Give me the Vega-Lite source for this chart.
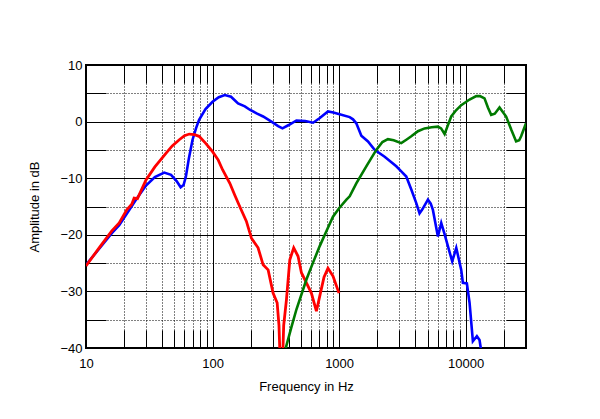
{
  "$schema": "https://vega.github.io/schema/vega-lite/v6.json",
  "width": 440,
  "height": 283,
  "autosize": {"type": "none"},
  "padding": {"left": 86, "top": 65, "right": 74, "bottom": 71},
  "background": "white",
  "config": {
    "view": {"stroke": "black", "strokeWidth": 2},
    "font": "Liberation Sans",
    "axis": {"labelFont": "Liberation Sans", "titleFont": "Liberation Sans", "labelColor": "black", "titleColor": "black", "titleFontWeight": "normal", "labelFontSize": 13, "titleFontSize": 13, "domain": false, "tickColor": "black", "tickWidth": 1}
  },
  "datasets": {
    "blue": [
      {"f": 10, "db": -25.3}, {"f": 13, "db": -22.2}, {"f": 16, "db": -19.7}, {"f": 18.3, "db": -18.3}, {"f": 21, "db": -16.3}, {"f": 24.8, "db": -13.8}, {"f": 29.8, "db": -11.3}, {"f": 35, "db": -9.8}, {"f": 41.5, "db": -9.0}, {"f": 47, "db": -9.4}, {"f": 52, "db": -10.5}, {"f": 56, "db": -11.6}, {"f": 59, "db": -11.2}, {"f": 61.6, "db": -9.7}, {"f": 65, "db": -6.5}, {"f": 69.5, "db": -3.2}, {"f": 74, "db": -1.2}, {"f": 78.3, "db": 0.3}, {"f": 88, "db": 2.2}, {"f": 100, "db": 3.5}, {"f": 112, "db": 4.3}, {"f": 125, "db": 4.7}, {"f": 140, "db": 4.4}, {"f": 159, "db": 3.2}, {"f": 180, "db": 2.7}, {"f": 197, "db": 2.1}, {"f": 225, "db": 1.4}, {"f": 251, "db": 0.9}, {"f": 292, "db": 0.0}, {"f": 330, "db": -0.8}, {"f": 357, "db": -1.2}, {"f": 400, "db": -0.6}, {"f": 460, "db": 0.2}, {"f": 540, "db": 0.1}, {"f": 623, "db": -0.2}, {"f": 700, "db": 0.6}, {"f": 817, "db": 1.8}, {"f": 900, "db": 1.6}, {"f": 1010, "db": 1.3}, {"f": 1213, "db": 0.8}, {"f": 1288, "db": 0.4}, {"f": 1368, "db": -0.3}, {"f": 1499, "db": -2.5}, {"f": 1692, "db": -3.5}, {"f": 1909, "db": -5.0}, {"f": 2291, "db": -6.2}, {"f": 2832, "db": -7.9}, {"f": 3100, "db": -8.8}, {"f": 3396, "db": -9.7}, {"f": 3721, "db": -12.0}, {"f": 4074, "db": -14.4}, {"f": 4325, "db": -16.2}, {"f": 4550, "db": -15.5}, {"f": 5035, "db": -13.8}, {"f": 5300, "db": -14.5}, {"f": 5513, "db": -15.6}, {"f": 6039, "db": -20.3}, {"f": 6416, "db": -17.9}, {"f": 6800, "db": -19.8}, {"f": 7244, "db": -22.0}, {"f": 7834, "db": -24.7}, {"f": 8433, "db": -22.3}, {"f": 9232, "db": -26.2}, {"f": 9513, "db": -28.5}, {"f": 10230, "db": -28.6}, {"f": 10740, "db": -32.0}, {"f": 11410, "db": -38.8}, {"f": 12270, "db": -37.9}, {"f": 12880, "db": -38.6}, {"f": 13280, "db": -40.5}
    ],
    "red": [
      {"f": 10, "db": -25.5}, {"f": 13, "db": -22.0}, {"f": 16, "db": -19.3}, {"f": 18.3, "db": -17.9}, {"f": 21, "db": -15.6}, {"f": 23, "db": -14.6}, {"f": 24, "db": -13.5}, {"f": 25.5, "db": -13.6}, {"f": 29.8, "db": -10.3}, {"f": 35, "db": -8.0}, {"f": 42.8, "db": -5.6}, {"f": 48, "db": -4.3}, {"f": 54.6, "db": -3.2}, {"f": 60, "db": -2.5}, {"f": 65.5, "db": -2.2}, {"f": 72, "db": -2.3}, {"f": 78.3, "db": -2.6}, {"f": 88, "db": -3.8}, {"f": 100, "db": -5.3}, {"f": 111, "db": -6.8}, {"f": 120, "db": -8.5}, {"f": 137, "db": -10.9}, {"f": 150, "db": -13.0}, {"f": 164, "db": -15.0}, {"f": 185, "db": -17.6}, {"f": 203, "db": -20.6}, {"f": 229, "db": -22.3}, {"f": 251, "db": -25.3}, {"f": 275, "db": -26.2}, {"f": 301, "db": -30.3}, {"f": 324, "db": -32.0}, {"f": 335, "db": -36}, {"f": 342, "db": -42}, {"f": 358, "db": -42}, {"f": 365, "db": -36}, {"f": 384, "db": -31.4}, {"f": 408, "db": -24.4}, {"f": 438, "db": -22.3}, {"f": 474, "db": -23.8}, {"f": 504, "db": -26.7}, {"f": 552, "db": -28.5}, {"f": 604, "db": -30.3}, {"f": 662, "db": -33.5}, {"f": 712, "db": -30.3}, {"f": 760, "db": -27.5}, {"f": 817, "db": -25.9}, {"f": 895, "db": -27.3}, {"f": 998, "db": -30.3}
    ],
    "green": [
      {"f": 360, "db": -42}, {"f": 379, "db": -40}, {"f": 420, "db": -36.3}, {"f": 460, "db": -33.2}, {"f": 552, "db": -27.9}, {"f": 620, "db": -25.0}, {"f": 703, "db": -22.0}, {"f": 800, "db": -19.2}, {"f": 895, "db": -16.8}, {"f": 1000, "db": -15.3}, {"f": 1143, "db": -13.8}, {"f": 1213, "db": -13.2}, {"f": 1368, "db": -10.9}, {"f": 1641, "db": -7.9}, {"f": 1968, "db": -5.0}, {"f": 2200, "db": -3.6}, {"f": 2432, "db": -3.1}, {"f": 2700, "db": -3.3}, {"f": 3099, "db": -3.8}, {"f": 3400, "db": -3.2}, {"f": 3721, "db": -2.6}, {"f": 4200, "db": -1.7}, {"f": 4743, "db": -1.2}, {"f": 5400, "db": -1.0}, {"f": 6039, "db": -0.9}, {"f": 6400, "db": -1.2}, {"f": 6823, "db": -2.2}, {"f": 7200, "db": -0.8}, {"f": 7696, "db": 0.9}, {"f": 8400, "db": 2.0}, {"f": 9232, "db": 2.9}, {"f": 10740, "db": 3.9}, {"f": 12130, "db": 4.5}, {"f": 13000, "db": 4.5}, {"f": 14100, "db": 4.1}, {"f": 15000, "db": 2.5}, {"f": 15920, "db": 1.2}, {"f": 17000, "db": 1.4}, {"f": 18530, "db": 2.5}, {"f": 20900, "db": 0.9}, {"f": 23000, "db": -1.5}, {"f": 25060, "db": -3.5}, {"f": 26500, "db": -3.3}, {"f": 27460, "db": -2.6}, {"f": 30000, "db": -0.3}
    ]
  },
  "resolve": {"axis": {"x": "independent", "y": "independent"}},
  "layer": [
    {
      "data": {"name": "blue"},
      "mark": {"type": "line", "color": "#0000ff", "strokeWidth": 2.6, "clip": true},
      "encoding": {
        "x": {"field": "f", "type": "quantitative", "scale": {"type": "log", "domain": [10, 30000], "nice": false},
          "axis": {"orient": "bottom", "title": "Frequency in Hz", "titlePadding": 10,
            "values": [10, 20, 30, 40, 50, 60, 70, 80, 90, 100, 200, 300, 400, 500, 600, 700, 800, 900, 1000, 2000, 3000, 4000, 5000, 6000, 7000, 8000, 9000, 10000, 20000],
            "labelExpr": "(datum.value == 10 || datum.value == 100 || datum.value == 1000 || datum.value == 10000) ? format(datum.value, 'd') : ''",
            "tickSize": -18, "labelPadding": 27, "labelFlush": false, "labelOverlap": false,
            "grid": true, "gridColor": "black", "gridWidth": 1,
            "gridDash": {"condition": {"test": "datum.value == 100 || datum.value == 1000 || datum.value == 10000", "value": []}, "value": [1, 2]}}},
        "y": {"field": "db", "type": "quantitative", "scale": {"domain": [-40, 10], "nice": false},
          "axis": {"orient": "left", "title": "Amplitude in dB", "titlePadding": 18,
            "values": [-40, -35, -30, -25, -20, -15, -10, -5, 0, 5, 10],
            "labelExpr": "datum.value % 10 === 0 ? format(datum.value, 'd') : ''",
            "tickSize": -20, "labelPadding": 24, "labelFlush": false, "labelOverlap": false,
            "grid": true, "gridColor": "black", "gridWidth": 1,
            "gridDash": {"condition": {"test": "datum.value % 10 === 0", "value": []}, "value": [1, 2]}}}
      }
    },
    {
      "data": {"name": "red"},
      "mark": {"type": "line", "color": "#ff0000", "strokeWidth": 2.8, "clip": true},
      "encoding": {
        "x": {"field": "f", "type": "quantitative", "scale": {"type": "log", "domain": [10, 30000], "nice": false},
          "axis": {"orient": "top", "title": null, "labels": false, "grid": false, "tickSize": -18,
            "values": [20, 30, 40, 50, 60, 70, 80, 90, 100, 200, 300, 400, 500, 600, 700, 800, 900, 1000, 2000, 3000, 4000, 5000, 6000, 7000, 8000, 9000, 10000, 20000]}},
        "y": {"field": "db", "type": "quantitative", "scale": {"domain": [-40, 10], "nice": false},
          "axis": {"orient": "right", "title": null, "labels": false, "grid": false, "tickSize": -20,
            "values": [-35, -30, -25, -20, -15, -10, -5, 0, 5]}}
      }
    },
    {
      "data": {"name": "green"},
      "mark": {"type": "line", "color": "#007a00", "strokeWidth": 2.6, "clip": true},
      "encoding": {
        "x": {"field": "f", "type": "quantitative", "scale": {"type": "log", "domain": [10, 30000], "nice": false}, "axis": null},
        "y": {"field": "db", "type": "quantitative", "scale": {"domain": [-40, 10], "nice": false}, "axis": null}
      }
    }
  ]
}
